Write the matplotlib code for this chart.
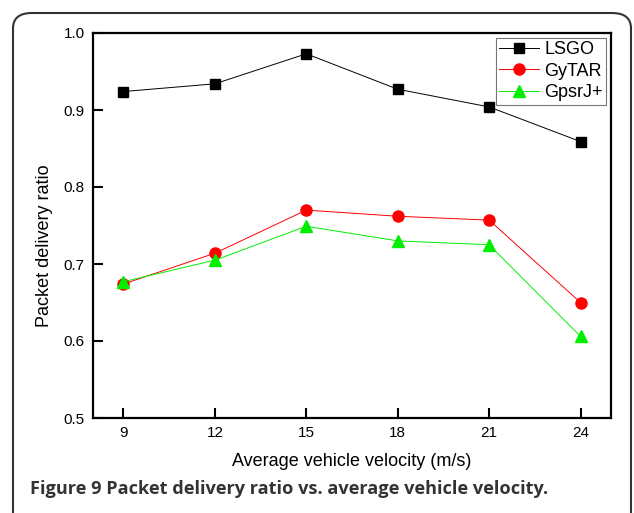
import matplotlib
matplotlib.use("Agg")
import matplotlib.pyplot as plt
from matplotlib.patches import FancyBboxPatch

# data
velocity = [9, 12, 15, 18, 21, 24]
lsgo = [0.924, 0.934, 0.973, 0.927, 0.904, 0.859]
gytar = [0.674, 0.714, 0.770, 0.762, 0.757, 0.650]
gpsrj = [0.677, 0.705, 0.749, 0.730, 0.725, 0.606]

plt.rcParams['font.family'] = ['Liberation Sans', 'DejaVu Sans']

fig = plt.figure(figsize=(6.34, 5.13), dpi=100)

# rounded frame around the figure (runs off the bottom like the scan)
frame = FancyBboxPatch((13 / 634, -0.2), (631 - 13) / 634, 1.2 - 13 / 513,
                       boxstyle="round,pad=0,rounding_size=0.03",
                       transform=fig.transFigure, facecolor="none",
                       edgecolor="#333333", linewidth=1.5, clip_on=False)
fig.patches.append(frame)

ax = fig.add_axes([93 / 634, 1 - 418 / 513, (611 - 93) / 634, (418 - 33) / 513])

ax.plot(velocity, lsgo, color="black", lw=0.7, marker="s", ms=7.5,
        label="LSGO")
ax.plot(velocity, gytar, color="red", lw=0.7, marker="o", ms=8,
        label="GyTAR")
ax.plot(velocity, gpsrj, color="#00ee00", lw=0.7, marker="^", ms=9,
        label="GpsrJ+")

ax.set_xlim(8, 25)
ax.set_ylim(0.5, 1.0)
ax.set_xticks(velocity)
ax.set_yticks([0.5, 0.6, 0.7, 0.8, 0.9, 1.0])
ax.set_yticklabels(["0.5", "0.6", "0.7", "0.8", "0.9", "1.0"])
ax.tick_params(direction="in", length=7, width=1.5, labelsize=11, pad=6)
for s in ax.spines.values():
    s.set_linewidth(1.6)

ax.set_xlabel("Average vehicle velocity (m/s)", fontsize=13, labelpad=9)
ax.set_ylabel("Packet delivery ratio", fontsize=13)
ax.yaxis.set_label_coords(-0.078, 0.447)

leg = ax.legend(loc="upper right", fontsize=13, frameon=True, fancybox=False,
                borderaxespad=0.25, handlelength=2.2, handletextpad=0.3,
                labelspacing=0.25, borderpad=0.2)
leg.get_frame().set_edgecolor("#555555")
leg.get_frame().set_linewidth(0.8)

fig.text(30 / 634, 1 - 494 / 513, "Figure 9 Packet delivery ratio vs. average vehicle velocity.",
         fontsize=13.1, fontweight="bold", color="#333333",
         family=["Open Sans", "DejaVu Sans"], ha="left", va="baseline")

fig.savefig("out.png", dpi=100)
